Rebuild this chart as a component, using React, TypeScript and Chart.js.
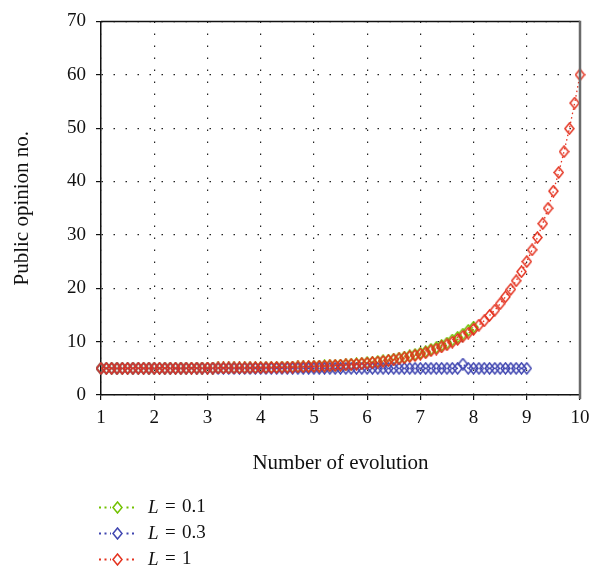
import React, { useEffect, useRef } from 'react';
import { Chart, registerables } from 'chart.js';

Chart.register(...registerables);

// x positions (number of evolution)
const X_VALUES = [
  1.0, 1.1, 1.2, 1.3, 1.4, 1.5, 1.6, 1.7, 1.8, 1.9,
  2.0, 2.1, 2.2, 2.3, 2.4, 2.5, 2.6, 2.7, 2.8, 2.9,
  3.0, 3.1, 3.2, 3.3, 3.4, 3.5, 3.6, 3.7, 3.8, 3.9,
  4.0, 4.1, 4.2, 4.3, 4.4, 4.5, 4.6, 4.7, 4.8, 4.9,
  5.0, 5.1, 5.2, 5.3, 5.4, 5.5, 5.6, 5.7, 5.8, 5.9,
  6.0, 6.1, 6.2, 6.3, 6.4, 6.5, 6.6, 6.7, 6.8, 6.9,
  7.0, 7.1, 7.2, 7.3, 7.4, 7.5, 7.6, 7.7, 7.8, 7.9,
  8.0, 8.1, 8.2, 8.3, 8.4, 8.5, 8.6, 8.7, 8.8, 8.9,
  9.0, 9.1, 9.2, 9.3, 9.4, 9.5, 9.6, 9.7, 9.8, 9.9,
  10.0,
];

// L = 0.1 (x = 1.0 .. 8.0)
const SERIES_L01 = [
  5.00, 5.00, 5.00, 5.00, 5.00, 5.00, 5.01, 5.01, 5.01, 5.01,
  5.01, 5.01, 5.01, 5.02, 5.02, 5.02, 5.02, 5.03, 5.03, 5.04,
  5.05, 5.05, 5.06, 5.06, 5.07, 5.08, 5.08, 5.09, 5.10, 5.12,
  5.13, 5.14, 5.16, 5.17, 5.19, 5.21, 5.23, 5.26, 5.29, 5.32,
  5.36, 5.40, 5.45, 5.50, 5.55, 5.61, 5.68, 5.75, 5.83, 5.92,
  6.02, 6.13, 6.25, 6.39, 6.54, 6.70, 6.89, 7.09, 7.35, 7.57,
  7.85, 8.12, 8.55, 8.88, 9.30, 9.74, 10.3, 10.8, 11.4, 12.1,
  12.7,
];

// L = 0.3 (x = 1.0 .. 9.0)
const SERIES_L03 = [
  5.00, 5.00, 5.00, 5.00, 5.00, 5.00, 5.00, 5.00, 5.00, 5.00,
  5.00, 5.00, 5.00, 5.00, 5.00, 5.00, 5.00, 5.00, 5.00, 5.00,
  5.00, 5.00, 5.00, 5.00, 5.00, 5.00, 5.00, 5.00, 5.00, 5.00,
  5.00, 5.00, 5.00, 5.00, 5.00, 5.00, 5.00, 5.00, 5.00, 5.00,
  5.00, 5.00, 5.00, 5.00, 5.00, 5.00, 5.00, 5.00, 5.00, 5.00,
  5.00, 5.00, 5.00, 5.00, 5.00, 5.00, 5.00, 5.00, 5.00, 5.00,
  5.00, 5.00, 5.00, 5.00, 5.00, 5.00, 5.00, 5.00, 5.80, 5.00,
  5.00, 5.00, 5.00, 5.00, 5.00, 5.00, 5.00, 5.00, 5.00, 5.00,
  5.00,
];

// L = 1 (x = 1.0 .. 10.0)
const SERIES_L1 = [
  5.00, 5.00, 5.00, 5.00, 5.00, 5.00, 5.01, 5.01, 5.01, 5.01,
  5.01, 5.01, 5.01, 5.02, 5.02, 5.02, 5.02, 5.03, 5.03, 5.04,
  5.05, 5.05, 5.06, 5.06, 5.07, 5.08, 5.08, 5.09, 5.10, 5.12,
  5.13, 5.14, 5.16, 5.17, 5.19, 5.21, 5.23, 5.26, 5.29, 5.32,
  5.35, 5.39, 5.43, 5.48, 5.53, 5.58, 5.65, 5.71, 5.79, 5.87,
  5.97, 6.07, 6.18, 6.31, 6.45, 6.60, 6.77, 6.96, 7.20, 7.40,
  7.65, 7.90, 8.30, 8.60, 9.00, 9.40, 9.90, 10.4, 11.0, 11.6,
  12.3, 13.1, 13.9, 14.9, 15.9, 17.1, 18.4, 19.8, 21.4, 23.1,
  25.0, 27.2, 29.5, 32.1, 35.0, 38.2, 41.7, 45.6, 49.9, 54.7,
  60.0,
];

const L_LABELS = ['0.1', '0.3', '1'];
const X_TITLE = 'Number of evolution';
const Y_TITLE = 'Public opinion no.';
const X_MIN = 1;
const X_MAX = 10;
const Y_MIN = 0;
const Y_MAX = 70;

const COLORS = ['#72c100', '#3f45b0', '#e4321f'];
const FONT = "'Liberation Serif', 'Times New Roman', serif";
const TEXT_COLOR = '#111';

function makeDiamond(color: string): HTMLCanvasElement {
  const c = document.createElement('canvas');
  c.width = 11;
  c.height = 13;
  const ctx = c.getContext('2d')!;
  ctx.strokeStyle = color;
  ctx.lineWidth = 1.5;
  ctx.lineJoin = 'miter';
  ctx.beginPath();
  ctx.moveTo(5.5, 1);
  ctx.lineTo(10, 6.5);
  ctx.lineTo(5.5, 12);
  ctx.lineTo(1, 6.5);
  ctx.closePath();
  ctx.stroke();
  return c;
}

export default function App() {
  const ref = useRef<HTMLCanvasElement | null>(null);

  useEffect(() => {
    if (!ref.current) return;
    const diamonds = COLORS.map(makeDiamond);
    const seriesList = [SERIES_L01, SERIES_L03, SERIES_L1];

    const datasets = seriesList.map((s, i) => ({
      label: 'L = ' + L_LABELS[i],
      data: s.map((y, k) => ({ x: X_VALUES[k], y })),
      borderColor: COLORS[i],
      backgroundColor: COLORS[i],
      borderWidth: 1.3,
      borderDash: [1.5, 3],
      pointStyle: diamonds[i],
      pointRadius: 5,
      showLine: true,
      fill: false,
      tension: 0,
      clip: 10,
      order: 3 - i,
    }));

    const framePlugin = {
      id: 'frame',
      afterDatasetsDraw(chart: any) {
        const { ctx, chartArea } = chart;
        ctx.save();
        ctx.strokeStyle = '#111';
        ctx.lineWidth = 1.5;
        ctx.beginPath();
        ctx.moveTo(chartArea.left, chartArea.top);
        ctx.lineTo(chartArea.right, chartArea.top);
        ctx.stroke();
        ctx.strokeStyle = '#6a6a6a';
        ctx.lineWidth = 2.5;
        ctx.beginPath();
        ctx.moveTo(chartArea.right, chartArea.top - 0.75);
        ctx.lineTo(chartArea.right, chartArea.bottom + 4);
        ctx.stroke();
        ctx.restore();
      },
    };

    const legendPlugin = {
      id: 'bottomLegend',
      afterDraw(chart: any) {
        const { ctx } = chart;
        const rowStart = chart.height - 64.5;
        const rowGap = 26;
        const lineX0 = chart.chartArea.left - 2;
        const lineX1 = lineX0 + 36;
        const textX = lineX0 + 49;
        ctx.save();
        chart.data.datasets.forEach((ds: any, i: number) => {
          const y = rowStart + i * rowGap;
          ctx.strokeStyle = ds.borderColor;
          ctx.lineWidth = 1.8;
          ctx.setLineDash([2, 3.5]);
          ctx.beginPath();
          ctx.moveTo(lineX0, y);
          ctx.lineTo(lineX1, y);
          ctx.stroke();
          ctx.setLineDash([]);
          ctx.fillStyle = '#fff';
          ctx.fillRect((lineX0 + lineX1) / 2 - 6, y - 7, 12, 14);
          const img = ds.pointStyle as HTMLCanvasElement;
          ctx.drawImage(img, Math.round((lineX0 + lineX1) / 2 - img.width / 2), Math.round(y - img.height / 2));
          ctx.fillStyle = TEXT_COLOR;
          ctx.textBaseline = 'middle';
          ctx.textAlign = 'left';
          ctx.font = 'italic 19px ' + FONT;
          ctx.fillText('L', textX, y);
          ctx.font = '19px ' + FONT;
          ctx.fillText('=', textX + 17, y);
          ctx.fillText(L_LABELS[i], textX + 34, y);
        });
        ctx.restore();
      },
    };

    const chart = new Chart(ref.current, {
      type: 'scatter',
      data: { datasets: datasets as any },
      options: {
        animation: false,
        responsive: false,
        devicePixelRatio: 1,
        layout: { padding: { top: 17, right: 21, bottom: 96, left: 0 } },
        plugins: {
          legend: { display: false },
          tooltip: { enabled: false },
        },
        scales: {
          x: {
            type: 'linear',
            min: X_MIN,
            max: X_MAX,
            afterFit: (s: any) => { s.height = 81; },
            ticks: {
              stepSize: 1,
              color: TEXT_COLOR,
              font: { family: FONT, size: 19 },
              padding: 7,
              maxRotation: 0,
            },
            grid: {
              color: '#222',
              lineWidth: 1.2,
              tickColor: '#111',
              tickLength: 5,
              tickWidth: 1.2,
            },
            border: { color: '#111', width: 1.5, dash: [1.5, 10.5] },
            title: {
              display: true,
              text: X_TITLE,
              color: TEXT_COLOR,
              font: { family: FONT, size: 21 },
              padding: { top: 0, bottom: 0 },
            },
          },
          y: {
            type: 'linear',
            min: Y_MIN,
            max: Y_MAX,
            afterFit: (s: any) => { s.width = 101; },
            ticks: {
              stepSize: 10,
              color: TEXT_COLOR,
              font: { family: FONT, size: 19 },
              padding: 10,
            },
            grid: {
              color: '#222',
              lineWidth: 1.2,
              tickColor: '#111',
              tickLength: 5,
              tickWidth: 1.2,
            },
            border: { color: '#111', width: 1.5, dash: [1.5, 10.5] },
            title: {
              display: true,
              text: Y_TITLE,
              color: TEXT_COLOR,
              font: { family: FONT, size: 21 },
              padding: { top: 10, bottom: 0 },
            },
          },
        },
      },
      plugins: [framePlugin, legendPlugin],
    });

    return () => chart.destroy();
  }, []);

  return (
    <div style={{ position: 'absolute', left: 0, top: 0, width: 601, height: 572, background: '#fff' }}>
      <canvas ref={ref} width={601} height={572} />
    </div>
  );
}
